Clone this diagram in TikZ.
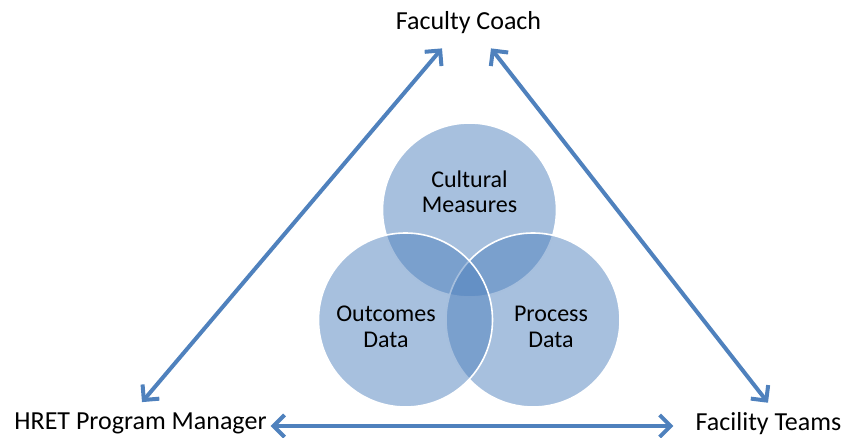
\documentclass[tikz,border=0pt]{standalone}
\usepackage{fontspec}
\setmainfont{Carlito}
\usepackage{xcolor}
\usetikzlibrary{arrows.meta, positioning}

\definecolor{officeblue}{HTML}{4F81BD}

\begin{document}
\begin{tikzpicture}[x=1pt,y=1pt,
    role/.style={anchor=base,inner sep=0pt,font=\fontsize{26}{30}\selectfont},
    topic/.style={align=center,inner sep=0pt,font=\fontsize{24}{25.5}\selectfont},
    venn/.style={fill=officeblue,fill opacity=0.5,draw=white,line width=1.6pt},
    link/.style={officeblue,line width=4pt,
        {Straight Barb[length=11pt,width=22pt]}-{Straight Barb[length=11pt,width=22pt]}}]
    \useasboundingbox (0,0) rectangle (847,438);

    % tre cerchi sovrapposti
    \draw[venn] (469.5,228) circle (87);
    \draw[venn] (533,118) circle (87);
    \draw[venn] (405.5,118) circle (87);

    \node[topic] (cult) at (469.5,246) {Cultural\\Measures};
    \node[topic] (outc) at (386,111) {Outcomes\\Data};
    \node[topic] (proc) at (551,111) {Process\\Data};

    % ruoli ai vertici
    \node[role] (coach) at (468.5,408) {Faculty Coach};
    \node[role] (mgr) at (140.5,8) {HRET Program Manager};
    \node[role] (teams) at (768.5,7) {Facility Teams};

    % frecce doppie
    \draw[link] ([xshift=1.5,yshift=11]mgr.north) -- ([xshift=-26.5,yshift=-14]coach.south);
    \draw[link] ([xshift=22.5,yshift=-14]coach.south) -- ([xshift=-0.5,yshift=10]teams.north);
    \draw[link] ([xshift=4,yshift=4]mgr.base east) -- ([xshift=-22,yshift=5]teams.base west);
\end{tikzpicture}
\end{document}
